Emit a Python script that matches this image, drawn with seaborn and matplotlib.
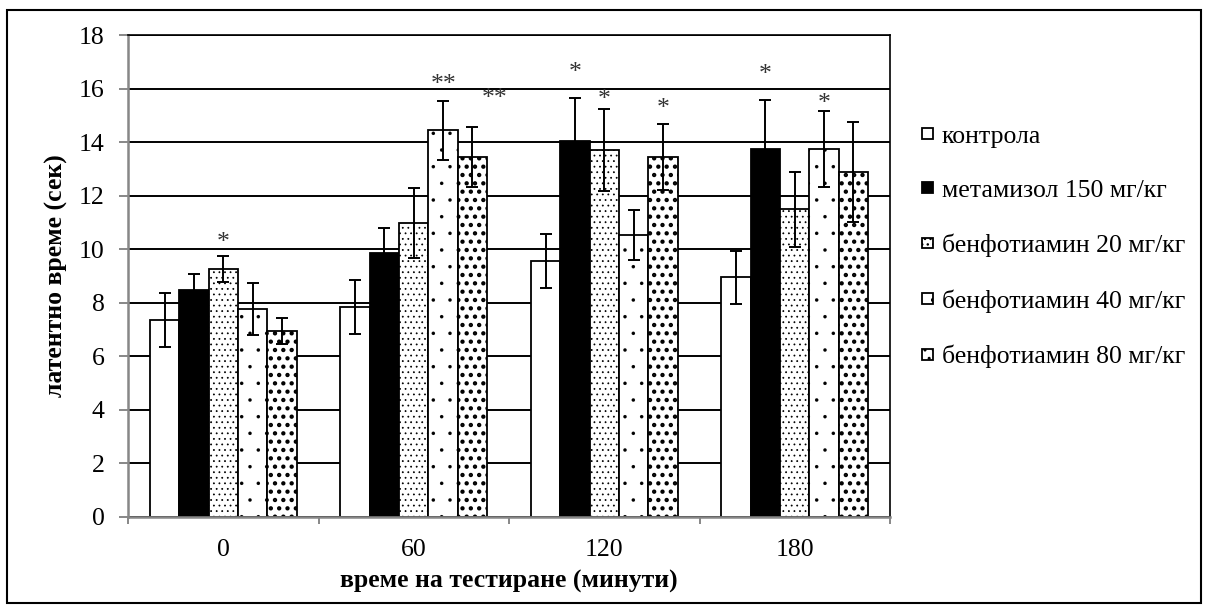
import numpy as np
import pandas as pd
import matplotlib
matplotlib.use("Agg")
import matplotlib.pyplot as plt
from matplotlib.patches import Rectangle
import seaborn as sns

# ---------------- data ----------------
times = ["0", "60", "120", "180"]
groups = ["контрола", "метамизол 150 мг/кг", "бенфотиамин 20 мг/кг",
          "бенфотиамин 40 мг/кг", "бенфотиамин 80 мг/кг"]

kontrola = [7.35, 7.85, 9.55, 8.95]
metamizol = [8.47, 9.85, 14.05, 13.74]
benf20 = [9.26, 10.98, 13.70, 11.50]
benf40 = [7.77, 14.45, 10.53, 13.74]
benf80 = [6.95, 13.44, 13.44, 12.88]

err_kontrola = [1.00, 1.00, 1.00, 1.00]
err_metamizol = [0.60, 0.95, 1.60, 1.83]
err_benf20 = [0.48, 1.30, 1.53, 1.40]
err_benf40 = [0.97, 1.10, 0.93, 1.42]
err_benf80 = [0.49, 1.12, 1.24, 1.87]

# significance marks
sig_times = ["0", "60", "60", "120", "120", "120", "180", "180"]
sig_groups = [2, 3, 4, 1, 2, 4, 1, 3]
sig_marks = ["*", "**", "**", "*", "*", "*", "*", "*"]
sig_heights = [10.5, 16.4, 15.87, 16.84, 15.83, 15.5, 16.77, 15.68]
sig_shift = [0, 0, 0.115, 0, 0, 0, 0, 0]

series = [kontrola, metamizol, benf20, benf40, benf80]
errors = [err_kontrola, err_metamizol, err_benf20, err_benf40, err_benf80]

rows = []
for g, vals in zip(groups, series):
    for t, v in zip(times, vals):
        rows.append({"time": t, "group": g, "value": v})
df = pd.DataFrame(rows)

# ---------------- style ----------------
plt.rcParams['font.family'] = ['Liberation Serif', 'DejaVu Serif']
FS = 18.5
GREY = '#878787'
colors = ['white', 'black', 'white', 'white', 'white']
hatches = [None, None, '...', '.', '..']
hatch_lw = [1.0, 1.0, 0.55, 0.1, 1.9]

fig = plt.figure(figsize=(12.08, 6.10), dpi=100)
ax = fig.add_axes([0.106, 0.1525, 0.6308, 0.7901])

sns.barplot(data=df, x="time", y="value", hue="group", order=times,
            hue_order=groups, palette=colors, errorbar=None, width=0.77,
            gap=0, edgecolor="black", linewidth=1.3, saturation=1,
            legend=False, ax=ax, zorder=2)

bar_containers = list(ax.containers)
for cont, h, hl in zip(bar_containers, hatches, hatch_lw):
    for p in cont:
        if h:
            p.set_hatch(h)
            if hasattr(p, 'set_hatch_linewidth'):
                p.set_hatch_linewidth(hl)

for cont, e in zip(bar_containers, errors):
    xs = [p.get_x() + p.get_width() / 2 for p in cont]
    ys = [p.get_height() for p in cont]
    ax.errorbar(xs, ys, yerr=e, fmt='none', ecolor='black', elinewidth=1.4,
                capsize=4.3, capthick=1.4, zorder=3)

for t, gi, m, h, dx in zip(sig_times, sig_groups, sig_marks, sig_heights, sig_shift):
    p = bar_containers[gi][times.index(t)]
    x = p.get_x() + p.get_width() / 2 + dx
    ax.annotate(m, (x, h), xytext=(0, -9.6), textcoords='offset points',
                ha='center', va='baseline', fontsize=FS, color='#333333')

ax.set_xlim(-0.5, 3.5)
ax.set_ylim(0, 18)
ax.set_yticks(np.arange(0, 19, 2))
ax.yaxis.grid(True, color='black', linewidth=1.4)
ax.xaxis.grid(False)
ax.set_axisbelow(True)
ax.set_xticks(range(len(times)))
ax.set_xticklabels(times)
ax.set_xticks([-0.5, 0.5, 1.5, 2.5, 3.5], minor=True)
ax.tick_params(axis='x', which='major', length=0, pad=16, labelsize=FS)
ax.tick_params(axis='x', which='minor', length=5, width=1.4, color=GREY)
ax.tick_params(axis='y', length=6.5, width=1.4, color=GREY, pad=10.5, labelsize=FS)

ax.set_xlabel("време на тестиране (минути)", fontsize=FS, fontweight='bold', labelpad=6)
ax.set_ylabel("латентно време (сек)", fontsize=FS, fontweight='bold', labelpad=8)

for s in ['left', 'bottom']:
    ax.spines[s].set_color(GREY)
    ax.spines[s].set_linewidth(1.8)
for s in ['top', 'right']:
    ax.spines[s].set_color('black')
    ax.spines[s].set_linewidth(1.2)

handles = [cont.patches[0] for cont in bar_containers]
fig.legend(handles, groups, loc='center left',
           bbox_to_anchor=(922 / 1208, 1 - 247 / 610), frameon=False,
           fontsize=FS, handlelength=0.42, handleheight=0.28,
           handletextpad=0.35, labelspacing=1.25, borderpad=0,
           borderaxespad=0)

fig.patches.append(Rectangle((0.0058, 0.0115), 0.9884, 0.972,
                             transform=fig.transFigure, fill=False,
                             edgecolor='black', linewidth=1.5))

fig.savefig('out.png', dpi=100)
